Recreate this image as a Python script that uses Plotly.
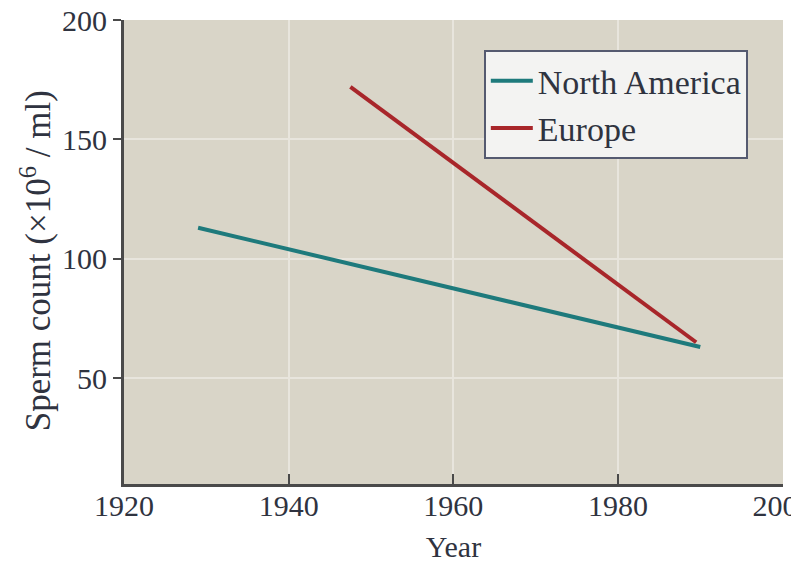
import plotly.graph_objects as go

years_na = [1929, 1990]
count_na = [113, 63]
years_eu = [1947.5, 1989.5]
count_eu = [172, 65]
x_ticks = [1920, 1940, 1960, 1980, 2000]
y_ticks = [50, 100, 150, 200]

font_fam = "Liberation Serif, Times New Roman, serif"
text_col = "#2f3340"

fig = go.Figure()
fig.add_trace(go.Scatter(x=years_na, y=count_na, mode="lines", name="North America",
                         line=dict(color="#1e7a7c", width=4)))
fig.add_trace(go.Scatter(x=years_eu, y=count_eu, mode="lines", name="Europe",
                         line=dict(color="#a8262a", width=4)))

fig.update_layout(
    width=791, height=557,
    margin=dict(l=116, r=16, t=12, b=81),
    paper_bgcolor="white",
    plot_bgcolor="#d9d5c8",
    font=dict(family=font_fam, size=30, color=text_col),
    showlegend=True,
    legend=dict(x=0.546, y=0.935, xanchor="left", yanchor="top",
                itemwidth=42,
                bgcolor="#f3f3f2", bordercolor="#555a70", borderwidth=2,
                font=dict(size=34, family=font_fam, color=text_col)),
    annotations=[dict(text="Sperm count (×10<sup>6</sup> / ml)", textangle=-90,
                      xref="paper", yref="paper", x=-0.1335, y=0.48,
                      xanchor="center", yanchor="middle", showarrow=False,
                      font=dict(size=35, family=font_fam, color=text_col))],
)
fig.update_xaxes(
    range=[1920, 2000.05], tickvals=x_ticks, ticktext=[str(v) for v in x_ticks],
    automargin=False, ticklabeloverflow="allow", ticklabelstandoff=-7,
    showline=True, linecolor="#4a4a4a", linewidth=3,
    ticks="inside", ticklen=10, tickwidth=2, tickcolor="#4a4a4a",
    showgrid=True, gridcolor="#e8e5dd", gridwidth=1.5, zeroline=False,
    title=dict(text="Year", font=dict(size=30), standoff=15),
    tickfont=dict(size=30),
)
fig.update_yaxes(
    range=[5.6, 200.05], tickvals=y_ticks,
    automargin=False, ticklabeloverflow="allow",
    showline=True, linecolor="#4a4a4a", linewidth=3,
    ticks="outside", ticklen=8, tickwidth=2, tickcolor="#4a4a4a",
    showgrid=True, gridcolor="#e8e5dd", gridwidth=1.5, zeroline=False,
    tickfont=dict(size=30),
)

fig.write_html("out.html")
